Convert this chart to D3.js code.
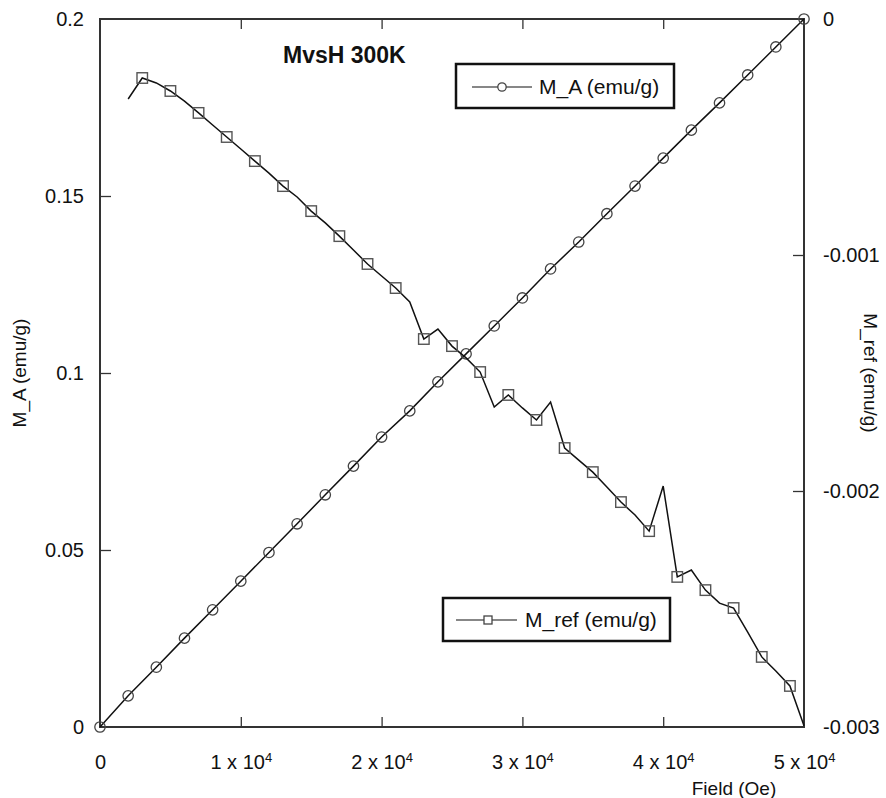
<!DOCTYPE html>
<html>
<head>
<meta charset="utf-8">
<script src="https://cdn.jsdelivr.net/npm/d3@7"></script>
<style>
  html, body { margin: 0; padding: 0; background: #fff; }
  svg { display: block; }
  text { font-family: "Liberation Sans", Arial, sans-serif; fill: #111; }
</style>
</head>
<body>
<div id="chart"></div>
<script>
// ---- data ----
const fieldA = [0, 2000, 4000, 6000, 8000, 10000, 12000, 14000, 16000, 18000, 20000, 22000, 24000,
  26000, 28000, 30000, 32000, 34000, 36000, 38000, 40000, 42000, 44000, 46000, 48000, 50000];
const mA = [0, 0.0088, 0.0169, 0.0251, 0.0331, 0.0412, 0.0493, 0.0574, 0.0656, 0.0737, 0.0819,
  0.0893, 0.0975, 0.1054, 0.1133, 0.1212, 0.1294, 0.1370, 0.1450, 0.1528, 0.1607, 0.1686,
  0.1763, 0.1842, 0.1921, 0.2000];

const fieldRef = [2000, 3000, 4000, 5000, 6000, 7000, 8000, 9000, 10000, 11000, 12000, 13000, 14000,
  15000, 16000, 17000, 18000, 19000, 20000, 21000, 22000, 23000, 24000, 25000, 26000, 27000, 28000,
  29000, 30000, 31000, 32000, 33000, 34000, 35000, 36000, 37000, 38000, 39000, 40000, 41000, 42000,
  43000, 44000, 45000, 46000, 47000, 48000, 49000, 50000];
const mRef = [-0.000339, -0.000250, -0.000271, -0.000305, -0.000348, -0.000398, -0.000449, -0.000500,
  -0.000551, -0.000602, -0.000653, -0.000708, -0.000754, -0.000814, -0.000864, -0.000920, -0.000979,
  -0.001038, -0.001089, -0.001140, -0.001199, -0.001356, -0.001314, -0.001386, -0.001436, -0.001496,
  -0.001644, -0.001593, -0.001648, -0.001699, -0.001623, -0.001818, -0.001869, -0.001920, -0.001983,
  -0.002047, -0.002102, -0.002170, -0.001979, -0.002364, -0.002335, -0.002420, -0.002475, -0.002496,
  -0.002598, -0.002703, -0.002763, -0.002826, -0.002995];

const xTicks = [0, 10000, 20000, 30000, 40000, 50000];
const xTickMantissa = ["0", "1", "2", "3", "4", "5"];
const yLeftTicks = [0, 0.05, 0.1, 0.15, 0.2];
const yLeftLabels = ["0", "0.05", "0.1", "0.15", "0.2"];
const yRightTicks = [0, -0.001, -0.002, -0.003];
const yRightLabels = ["0", "-0.001", "-0.002", "-0.003"];

const titleText = "MvsH 300K";
const xTitle = "Field (Oe)";
const yLeftTitle = "M_A (emu/g)";
const yRightTitle = "M_ref (emu/g)";
const legendA = "M_A (emu/g)";
const legendRef = "M_ref (emu/g)";

// ---- layout ----
const W = 886, H = 798;
const L = 100, R = 804, T = 19, B = 727;
const tickFs = 20;

const svg = d3.select("#chart").append("svg").attr("width", W).attr("height", H);

const x = d3.scaleLinear().domain([0, 50000]).range([L, R]);
const yL = d3.scaleLinear().domain([0, 0.2]).range([B, T]);
const yR = d3.scaleLinear().domain([-0.003, 0]).range([B, T]);

// axes
const gBottom = svg.append("g").attr("transform", `translate(0,${B})`)
  .call(d3.axisBottom(x).tickValues(xTicks).tickSize(-10).tickPadding(28).tickFormat(""));
const gTop = svg.append("g").attr("transform", `translate(0,${T})`)
  .call(d3.axisTop(x).tickValues(xTicks).tickSize(-10).tickFormat(""));
const gLeft = svg.append("g").attr("transform", `translate(${L},0)`)
  .call(d3.axisLeft(yL).tickValues(yLeftTicks).tickSize(-11).tickPadding(16)
    .tickFormat((d, i) => yLeftLabels[i]));
const gRight = svg.append("g").attr("transform", `translate(${R},0)`)
  .call(d3.axisRight(yR).tickValues(yRightTicks).tickSize(-11).tickPadding(19)
    .tickFormat((d, i) => yRightLabels[i]));

[gBottom, gTop, gLeft, gRight].forEach(g => {
  g.select(".domain").remove();
  g.selectAll(".tick line").attr("stroke", "#333").attr("stroke-width", 1.3);
  g.selectAll(".tick text").attr("font-size", tickFs).attr("font-family", "Liberation Sans, Arial, sans-serif").attr("fill", "#111");
});
gLeft.selectAll(".tick line").filter(d => d === 0 || d === 0.2).remove();
gRight.selectAll(".tick line").filter(d => d === 0 || d === -0.003).remove();
gBottom.selectAll(".tick line").filter(d => d === 0 || d === 50000).remove();
gTop.selectAll(".tick line").filter(d => d === 0 || d === 50000).remove();

// bottom labels with superscripts
gBottom.selectAll(".tick text").each(function(d, i) {
  const t = d3.select(this);
  t.text(null);
  if (i === 0) { t.text(xTickMantissa[i]); return; }
  t.append("tspan").text(xTickMantissa[i] + " x 10");
  t.append("tspan").attr("font-size", 13).attr("dy", "-0.55em").text("4");
});

// frame
svg.append("rect").attr("x", L).attr("y", T).attr("width", R - L).attr("height", B - T)
  .attr("fill", "none").attr("stroke", "#333").attr("stroke-width", 2);

// M_A series
const lineA = d3.line().x((d, i) => x(fieldA[i])).y(d => yL(d));
svg.append("path").attr("d", lineA(mA)).attr("fill", "none").attr("stroke", "#111").attr("stroke-width", 1.5);
svg.append("g").selectAll("circle").data(mA).join("circle")
  .attr("cx", (d, i) => x(fieldA[i])).attr("cy", d => yL(d)).attr("r", 5.2)
  .attr("fill", "none").attr("stroke", "#444").attr("stroke-width", 1.3);

// M_ref series
const lineR = d3.line().x((d, i) => x(fieldRef[i])).y(d => yR(d));
svg.append("path").attr("d", lineR(mRef)).attr("fill", "none").attr("stroke", "#111").attr("stroke-width", 1.5);
const refMarks = mRef.map((v, i) => ({ f: fieldRef[i], v })).filter(d => d.f % 2000 === 1000);
const sq = 10.5;
svg.append("g").selectAll("rect").data(refMarks).join("rect")
  .attr("x", d => x(d.f) - sq / 2).attr("y", d => yR(d.v) - sq / 2)
  .attr("width", sq).attr("height", sq)
  .attr("fill", "none").attr("stroke", "#555").attr("stroke-width", 1.4);

// title
svg.append("text").attr("x", 283).attr("y", 63).attr("font-size", 23).attr("font-weight", "bold")
  .text(titleText);

// axis titles
svg.append("text").attr("x", 734).attr("y", 795).attr("font-size", 19).attr("text-anchor", "middle").text(xTitle);
svg.append("text").attr("transform", `translate(26,${(T + B) / 2}) rotate(-90)`)
  .attr("font-size", 19).attr("text-anchor", "middle").text(yLeftTitle);
svg.append("text").attr("transform", `translate(864,${(T + B) / 2}) rotate(90)`)
  .attr("font-size", 19).attr("text-anchor", "middle").text(yRightTitle);

// legend A
const lgA = svg.append("g");
lgA.append("rect").attr("x", 456).attr("y", 64).attr("width", 218).attr("height", 44)
  .attr("fill", "#fff").attr("stroke", "#111").attr("stroke-width", 2.5);
lgA.append("line").attr("x1", 472).attr("x2", 532).attr("y1", 87).attr("y2", 87).attr("stroke", "#111").attr("stroke-width", 1.2);
lgA.append("circle").attr("cx", 502).attr("cy", 87).attr("r", 4.2).attr("fill", "#fff").attr("stroke", "#444").attr("stroke-width", 1.3);
lgA.append("text").attr("x", 539).attr("y", 94).attr("font-size", 21).text(legendA);

// legend ref
const lgR = svg.append("g");
lgR.append("rect").attr("x", 443).attr("y", 598).attr("width", 227).attr("height", 43)
  .attr("fill", "#fff").attr("stroke", "#111").attr("stroke-width", 2.5);
lgR.append("line").attr("x1", 456).attr("x2", 517).attr("y1", 620).attr("y2", 620).attr("stroke", "#111").attr("stroke-width", 1.2);
lgR.append("rect").attr("x", 484).attr("y", 616).attr("width", 8).attr("height", 8).attr("fill", "#fff").attr("stroke", "#444").attr("stroke-width", 1.3);
lgR.append("text").attr("x", 525).attr("y", 627).attr("font-size", 21).text(legendRef);
</script>
</body>
</html>
